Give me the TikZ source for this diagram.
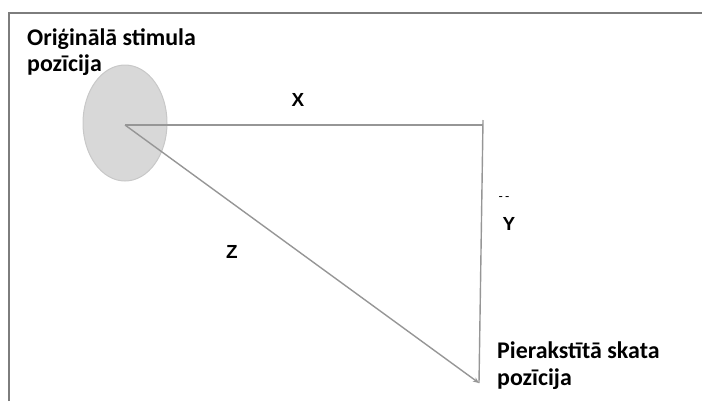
\documentclass[tikz,border=0pt]{standalone}
\usepackage{fontspec}
\setmainfont{Carlito}
\newfontfamily\arialfont{Liberation Sans}
\usetikzlibrary{arrows.meta,shapes.geometric}

\definecolor{linegray}{RGB}{150,150,150}
\definecolor{framegray}{RGB}{125,125,125}
\definecolor{blobfill}{RGB}{216,216,216}
\definecolor{blobdraw}{RGB}{200,200,200}

\begin{document}
\begin{tikzpicture}[
  x=1bp, y=-1bp,
  edge/.style={draw=linegray, line width=1.4bp},
  blob/.style={ellipse, draw=blobdraw, fill=blobfill, line width=1bp, minimum width=84bp, minimum height=116bp, inner sep=0pt},
  caption/.style={font=\fontsize{24}{26.5}\selectfont\bfseries, align=left, inner sep=0pt},
  axis label/.style={font=\arialfont\fontsize{19}{20}\selectfont\bfseries, inner sep=0pt}
]
  \useasboundingbox (0,0) rectangle (702,401);

  % open frame, top and left only
  \draw[framegray, line width=1.6bp] (9,401) -- (9,13) -- (702,13);

  \node[blob] (orig) at (125,123) {};
  \coordinate (start) at (125,125);
  \coordinate (corner) at (483,125);
  \coordinate (top) at (483,120);
  \coordinate (gaze) at (479,383);

  \draw[edge] (start) -- (corner);
  \draw[edge] (top) -- (gaze);
  \draw[edge, -{Stealth[length=6bp, width=5bp]}] (start) -- (gaze);

  \node[caption, anchor=north west] (origtxt) at (27,28) {Oriģinālā stimula\\pozīcija};
  \node[caption, anchor=north west] (gazetxt) at (497,342) {Pierakstītā skata\\pozīcija};

  \node[axis label] (xlab) at (298,100) {X};
  \node[axis label] (ylab) at (509,224) {Y};
  \node[axis label] (zlab) at (232,252) {Z};
  \node[font=\arialfont\fontsize{13}{14}\selectfont, inner sep=0pt] (mark) at (504,199) {-\,-};
\end{tikzpicture}
\end{document}
